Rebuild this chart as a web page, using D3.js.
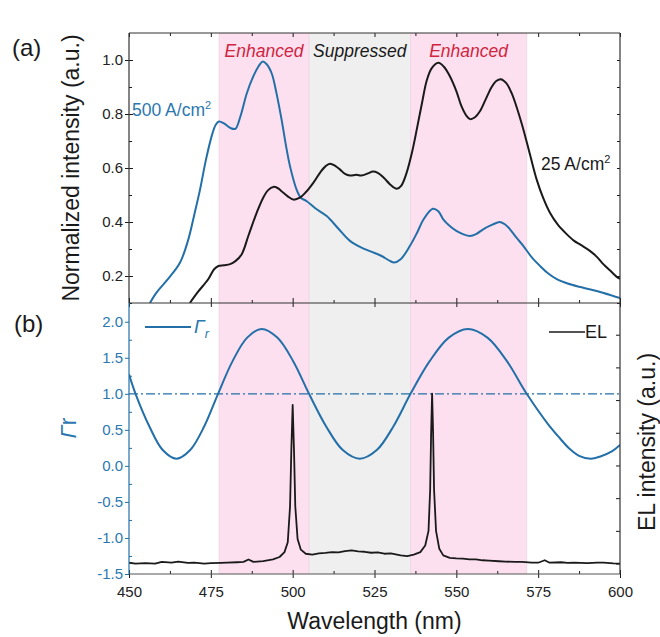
<!DOCTYPE html>
<html>
<head>
<meta charset="utf-8">
<script src="https://cdn.jsdelivr.net/npm/d3@7"></script>
<style>
  body { margin: 0; background: #fff; }
  text { font-family: Arial, "Liberation Sans", sans-serif; }
</style>
</head>
<body>
<div id="chart"></div>
<script>
// ---- data ----
// (a) normalized PL spectra, [wavelength nm, intensity]
var spec500 = [[456.4,0.10],[458.5,0.14],[462,0.19],[465.6,0.25],[468,0.33],[470,0.43],[471.7,0.52],[473.5,0.63],
  [475.3,0.72],[476.5,0.76],[477.5,0.772],[479,0.765],[481,0.748],[482.5,0.745],[484,0.79],[486,0.877],[488,0.94],
  [489.5,0.975],[490.8,0.994],[492,0.985],[493.6,0.95],[495,0.88],[496.6,0.78],[498,0.68],[499.2,0.606],[501.2,0.52],
  [502.5,0.49],[504.3,0.477],[507,0.45],[510.4,0.422],[514,0.375],[517.5,0.33],[521,0.305],[524,0.29],[527,0.275],
  [529.7,0.256],[531,0.25],[533,0.262],[535.8,0.311],[538,0.36],[540,0.41],[542.8,0.449],[544.5,0.44],[546,0.41],
  [548,0.385],[550,0.367],[552,0.355],[554.2,0.348],[556,0.355],[558.2,0.373],[561,0.39],[563.3,0.40],[565,0.39],
  [566.4,0.373],[568.5,0.34],[570.5,0.311],[573,0.27],[575.6,0.237],[578,0.21],[580.7,0.188],[584,0.172],[587.5,0.16],
  [591,0.15],[595,0.137],[600,0.118]];

var spec25 = [[468.6,0.10],[471,0.14],[474.2,0.188],[476,0.225],[477.3,0.237],[479,0.24],[480.9,0.244],[482.5,0.255],
  [484.4,0.28],[486.5,0.35],[489,0.434],[491,0.49],[492.5,0.518],[494.1,0.53],[495.5,0.525],[496.6,0.514],[498.5,0.495],
  [500.2,0.483],[502.2,0.49],[504,0.51],[506.3,0.545],[508.5,0.585],[510,0.606],[511.4,0.616],[513,0.608],[514.5,0.594],
  [516,0.578],[517.5,0.572],[519.5,0.575],[521,0.572],[523,0.58],[524.5,0.587],[526,0.582],[528,0.562],[529.7,0.54],
  [531.8,0.523],[533.2,0.535],[534.8,0.582],[536.5,0.66],[537.9,0.742],[539.5,0.84],[541,0.926],[542.5,0.97],[544.5,0.99],
  [546.2,0.975],[548.1,0.938],[550,0.885],[551.6,0.828],[553,0.795],[554.2,0.781],[555.7,0.788],[557.2,0.81],[559,0.855],
  [560.8,0.90],[562.2,0.922],[563.6,0.929],[565.2,0.915],[566.9,0.877],[568.7,0.815],[570.5,0.742],[572.5,0.65],
  [574.6,0.555],[576.5,0.49],[578.6,0.434],[581,0.39],[583.7,0.355],[586,0.33],[588,0.315],[590.8,0.293],[593,0.27],
  [594.9,0.244],[597,0.22],[599.2,0.195],[600,0.19]];

// (b) cavity factor Gamma_r
var gammaR = [[450,1.27],[452,1.0],[456.2,0.55],[460.3,0.22],[464.5,0.1],[468.7,0.22],[473,0.55],[477.2,1.0],
  [481.6,1.45],[486.1,1.78],[490.5,1.9],[495.3,1.78],[500.2,1.45],[505,1.0],[510.2,0.55],[515.3,0.22],[520.5,0.1],
  [525.7,0.22],[530.8,0.55],[536,1.0],[541.8,1.45],[547.7,1.78],[553.5,1.9],[559.5,1.78],[565.5,1.45],[571.5,1.0],
  [578,0.58],[581.7,0.38],[584.5,0.24],[587.5,0.14],[591,0.1],[594,0.13],[597.5,0.2],[600,0.29]];

// (b) EL spectrum, arbitrary units
var elSpectrum = [[450,0.005],[452,0.0],[455,0.003],[458,0.0],[460,0.01],[463,0.006],[465,0.012],[468,0.004],[470,0.005],
  [473,0.0],[475,0.002],[478,0.004],[480,0.006],[483,0.008],[485,0.01],[486.5,0.025],[488,0.01],[491,0.015],[494,0.025],
  [496,0.04],[497.5,0.07],[498.5,0.13],[499.2,0.35],[499.6,0.7],[500,0.97],[500.4,0.7],[500.8,0.35],[501.5,0.15],
  [502.5,0.085],[504,0.06],[506,0.055],[508,0.062],[510,0.065],[512,0.07],[514,0.068],[516,0.076],[518,0.08],[520,0.074],
  [522,0.072],[524,0.066],[526,0.068],[528,0.06],[530,0.062],[533,0.05],[535,0.045],[537,0.055],[539,0.07],[540.5,0.11],
  [541.5,0.2],[542,0.45],[542.3,0.8],[542.6,1.04],[542.9,0.8],[543.2,0.45],[543.8,0.2],[544.8,0.09],[546,0.05],
  [548,0.035],[550,0.032],[552,0.03],[554,0.026],[556,0.025],[558,0.02],[560,0.018],[563,0.014],[565,0.012],[568,0.01],
  [570,0.01],[573,0.006],[575,0.005],[577,0.02],[578.5,0.005],[582,0.008],[584,0.004],[586,0.005],[590,0.002],
  [593,0.006],[595,0.005],[598,0.001],[600,0.0]];

// shaded bands [from, to] in nm
var bandEdges = [[477.5, 505], [505, 536], [536, 571.5]];
var bandNames = ["Enhanced", "Suppressed", "Enhanced"];

var xTicks = [450, 475, 500, 525, 550, 575, 600];
var xMinor = [462.5, 487.5, 512.5, 537.5, 562.5, 587.5];
var topTicks = [0.2, 0.4, 0.6, 0.8, 1.0];
var topMinor = [0.1, 0.3, 0.5, 0.7, 0.9];
var gammaTicks = [-1.5, -1.0, -0.5, 0.0, 0.5, 1.0, 1.5, 2.0];
var gammaMinor = [-1.25, -0.75, -0.25, 0.25, 0.75, 1.25, 1.75];
var elTicks = [0, 0.2, 0.4, 0.6, 0.8, 1.0, 1.2, 1.4];

// ---- layout ----
var svgWidth = 660, svgHeight = 637;
var box = { left: 129, right: 620, top: 33, mid: 303, bottom: 574 };

var blue = "#236fa8", blueText = "#2b78b0", ink = "#1a1a1a";
var pink = "#fde0ef", grey = "#efefef";

var svg = d3.select("#chart").append("svg")
  .attr("width", svgWidth)
  .attr("height", svgHeight)
  .style("background", "#fff");

var x = d3.scaleLinear().domain([450, 600]).range([box.left, box.right]);
var yTop = d3.scaleLinear().domain([0.1, 1.1]).range([box.mid, box.top]);
var yBot = d3.scaleLinear().domain([-1.5, 2.26]).range([box.bottom, box.mid]);
var yEL = d3.scaleLinear().domain([-0.064, 1.594]).range([box.bottom, box.mid]);

var defs = svg.append("defs");
defs.append("clipPath").attr("id", "clipTop").append("rect")
  .attr("x", box.left).attr("y", box.top).attr("width", box.right - box.left).attr("height", box.mid - box.top);
defs.append("clipPath").attr("id", "clipBot").append("rect")
  .attr("x", box.left).attr("y", box.mid).attr("width", box.right - box.left).attr("height", box.bottom - box.mid);

// shaded bands over both panels
svg.append("g").selectAll("rect")
  .data(bandEdges)
  .enter()
  .append("rect")
  .attr("x", d => x(d[0]))
  .attr("y", box.top)
  .attr("width", d => x(d[1]) - x(d[0]))
  .attr("height", box.bottom - box.top)
  .attr("fill", (d, i) => i == 1 ? grey : pink);

// band edge lines (faint)
svg.append("g").selectAll("line")
  .data([bandEdges[0][0], bandEdges[1][0], bandEdges[2][0], bandEdges[2][1]])
  .enter()
  .append("line")
  .attr("x1", d => x(d)).attr("x2", d => x(d))
  .attr("y1", box.top).attr("y2", box.bottom)
  .attr("stroke", "#e8d6e0").attr("stroke-width", 0.8);

// band labels
svg.append("g").selectAll("text")
  .data(bandEdges)
  .enter()
  .append("text")
  .attr("x", d => x((d[0] + d[1]) / 2))
  .attr("y", 57)
  .attr("text-anchor", "middle")
  .style("font-size", "17.5px")
  .style("font-style", "italic")
  .attr("fill", (d, i) => i == 1 ? "#1a1a1a" : "#d0253f")
  .text((d, i) => bandNames[i]);

// ---- curves ----
var lineTop = d3.line().x(d => x(d[0])).y(d => yTop(d[1])).curve(d3.curveCatmullRom);
var lineGamma = d3.line().x(d => x(d[0])).y(d => yBot(d[1])).curve(d3.curveCatmullRom);
var lineEL = d3.line().x(d => x(d[0])).y(d => yEL(d[1])).curve(d3.curveLinear);

var topG = svg.append("g").attr("clip-path", "url(#clipTop)");
topG.append("path").datum(spec500).attr("d", lineTop)
  .attr("fill", "none").attr("stroke", blue).attr("stroke-width", 2);
topG.append("path").datum(spec25).attr("d", lineTop)
  .attr("fill", "none").attr("stroke", ink).attr("stroke-width", 2);

var botG = svg.append("g").attr("clip-path", "url(#clipBot)");
botG.append("line")
  .attr("x1", box.left).attr("x2", box.right)
  .attr("y1", yBot(1)).attr("y2", yBot(1))
  .attr("stroke", blue).attr("stroke-width", 1.2)
  .attr("stroke-dasharray", "9,3,2,3");
botG.append("path").datum(gammaR).attr("d", lineGamma)
  .attr("fill", "none").attr("stroke", blue).attr("stroke-width", 2);
botG.append("path").datum(elSpectrum).attr("d", lineEL)
  .attr("fill", "none").attr("stroke", ink).attr("stroke-width", 1.8)
  .attr("stroke-linejoin", "round");

// ---- axes ----
function tickRow(axisFn, scale, values, size, transform, color) {
  var a = axisFn(scale).tickValues(values).tickSize(size).tickSizeOuter(0).tickFormat("");
  var g = svg.append("g").attr("transform", transform).call(a);
  g.select(".domain").remove();
  g.selectAll("line").attr("stroke", color || ink);
  return g;
}
function fmt(d) { return d.toFixed(1); }

// bottom x axis with labels
var xAxis = svg.append("g")
  .attr("transform", `translate(0, ${box.bottom})`)
  .call(d3.axisBottom(x).tickValues(xTicks).tickSize(4).tickSizeOuter(0).tickPadding(8));
xAxis.select(".domain").remove();
xAxis.selectAll("line").attr("stroke", ink);
xAxis.selectAll("text").attr("fill", "#222").style("font-size", "15px");
tickRow(d3.axisBottom, x, xTicks, -4, `translate(0, ${box.bottom})`);
tickRow(d3.axisBottom, x, xMinor, -3, `translate(0, ${box.bottom})`);

// divider between panels
tickRow(d3.axisBottom, x, xTicks, -5, `translate(0, ${box.mid})`);
tickRow(d3.axisBottom, x, xMinor, -3, `translate(0, ${box.mid})`);
tickRow(d3.axisTop, x, xTicks, -4, `translate(0, ${box.mid})`);

// top edge
tickRow(d3.axisTop, x, xTicks, -4, `translate(0, ${box.top})`);
tickRow(d3.axisTop, x, xMinor, -3, `translate(0, ${box.top})`);

// left axis, panel (a)
var leftTop = svg.append("g")
  .attr("transform", `translate(${box.left}, 0)`)
  .call(d3.axisLeft(yTop).tickValues(topTicks).tickFormat(fmt).tickSize(4).tickSizeOuter(0).tickPadding(2));
leftTop.select(".domain").remove();
leftTop.selectAll("line").attr("stroke", ink);
leftTop.selectAll("text").attr("fill", "#222").style("font-size", "15px");
tickRow(d3.axisLeft, yTop, topTicks, -4, `translate(${box.left}, 0)`);
tickRow(d3.axisLeft, yTop, topMinor, -3, `translate(${box.left}, 0)`);

// right axis, panel (a)
tickRow(d3.axisRight, yTop, d3.merge([topTicks, topMinor]), -3, `translate(${box.right}, 0)`);

// left axis, panel (b) in blue
var leftBot = svg.append("g")
  .attr("transform", `translate(${box.left}, 0)`)
  .call(d3.axisLeft(yBot).tickValues(gammaTicks).tickFormat(fmt).tickSize(4).tickSizeOuter(0).tickPadding(2));
leftBot.select(".domain").remove();
leftBot.selectAll("line").attr("stroke", blue);
leftBot.selectAll("text").attr("fill", blueText).style("font-size", "15px");
tickRow(d3.axisLeft, yBot, gammaMinor, -3, `translate(${box.left}, 0)`, blue);

// right axis, panel (b)
tickRow(d3.axisRight, yEL, elTicks, -4, `translate(${box.right}, 0)`);

// frame lines
var frame = svg.append("g").attr("stroke-width", 1.2);
frame.append("line").attr("x1", box.left).attr("x2", box.right).attr("y1", box.top).attr("y2", box.top).attr("stroke", "#333");
frame.append("line").attr("x1", box.left).attr("x2", box.right).attr("y1", box.mid).attr("y2", box.mid).attr("stroke", "#333");
frame.append("line").attr("x1", box.left).attr("x2", box.right).attr("y1", box.bottom).attr("y2", box.bottom).attr("stroke", "#555");
frame.append("line").attr("x1", box.left).attr("x2", box.left).attr("y1", box.top).attr("y2", box.mid).attr("stroke", "#333");
frame.append("line").attr("x1", box.left).attr("x2", box.left).attr("y1", box.mid).attr("y2", box.bottom).attr("stroke", blue);
frame.append("line").attr("x1", box.right).attr("x2", box.right).attr("y1", box.top).attr("y2", box.bottom).attr("stroke", "#333");

// ---- texts ----
svg.append("text").attr("x", 12).attr("y", 56).style("font-size", "24px").attr("fill", ink).text("(a)");
svg.append("text").attr("x", 14).attr("y", 332).style("font-size", "24px").attr("fill", ink).text("(b)");

svg.append("text")
  .attr("transform", `translate(79, ${(box.top + box.mid) / 2}) rotate(-90)`)
  .attr("text-anchor", "middle")
  .style("font-size", "23px").attr("fill", ink)
  .text("Normalized intensity (a.u.)");

svg.append("text")
  .attr("transform", `translate(655, 442) rotate(-90)`)
  .attr("text-anchor", "middle")
  .style("font-size", "23px").attr("fill", ink)
  .text("EL intensity (a.u.)");

svg.append("text")
  .attr("x", (box.left + box.right) / 2)
  .attr("y", 629)
  .attr("text-anchor", "middle")
  .style("font-size", "23px").attr("fill", ink)
  .text("Wavelength (nm)");

var gLabel = svg.append("text")
  .attr("transform", `translate(76, 428) rotate(-90)`)
  .attr("text-anchor", "middle")
  .style("font-size", "23px").attr("fill", blueText);
gLabel.append("tspan").style("font-style", "italic").text("Γ");
gLabel.append("tspan").text("r");

// curve labels
var l500 = svg.append("text").attr("x", 132).attr("y", 116)
  .style("font-size", "17.5px").attr("fill", blueText);
l500.append("tspan").text("500 A/cm");
l500.append("tspan").attr("dy", -7).style("font-size", "11px").text("2");

var l25 = svg.append("text").attr("x", 541).attr("y", 170)
  .style("font-size", "17.5px").attr("fill", ink);
l25.append("tspan").text("25 A/cm");
l25.append("tspan").attr("dy", -7).style("font-size", "11px").text("2");

// legends in panel (b)
svg.append("line").attr("x1", 145).attr("x2", 191).attr("y1", 327).attr("y2", 327)
  .attr("stroke", blue).attr("stroke-width", 2);
var lg = svg.append("text").attr("x", 194).attr("y", 333)
  .style("font-size", "19px").style("font-style", "italic").attr("fill", blueText);
lg.append("tspan").text("Γ");
lg.append("tspan").attr("dy", 5).style("font-size", "13px").text("r");

svg.append("line").attr("x1", 549).attr("x2", 585).attr("y1", 332).attr("y2", 332)
  .attr("stroke", ink).attr("stroke-width", 1.5);
svg.append("text").attr("x", 585).attr("y", 338)
  .style("font-size", "18px").attr("fill", ink).text("EL");
</script>
</body>
</html>
